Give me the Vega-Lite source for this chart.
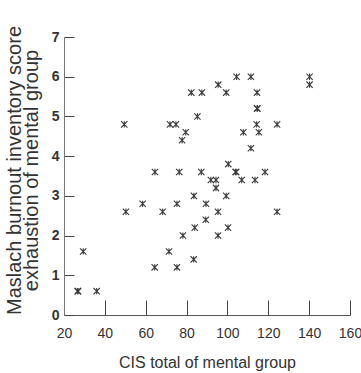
{
  "$schema": "https://vega.github.io/schema/vega-lite/v6.json",
  "width": 286,
  "height": 278,
  "autosize": {"type": "none"},
  "padding": {"left": 64, "top": 37, "right": 11, "bottom": 58},
  "background": "white",
  "config": {"view": {"stroke": null}},
  "data": {
    "values": [
      {"cis": 49.5, "mbi": 4.8}, {"cis": 71.9, "mbi": 4.8}, {"cis": 74.8, "mbi": 4.8},
      {"cis": 79.6, "mbi": 4.6}, {"cis": 77.8, "mbi": 4.4}, {"cis": 82.3, "mbi": 5.6},
      {"cis": 87.5, "mbi": 5.6}, {"cis": 85.3, "mbi": 5.0}, {"cis": 95.5, "mbi": 5.8},
      {"cis": 99.4, "mbi": 5.6}, {"cis": 104.5, "mbi": 6.0}, {"cis": 111.5, "mbi": 6.0},
      {"cis": 114.5, "mbi": 5.6}, {"cis": 114.5, "mbi": 5.2}, {"cis": 114.7, "mbi": 5.2},
      {"cis": 114.3, "mbi": 4.8}, {"cis": 115.4, "mbi": 4.6}, {"cis": 107.8, "mbi": 4.6},
      {"cis": 111.5, "mbi": 4.2}, {"cis": 124.3, "mbi": 4.8}, {"cis": 140.2, "mbi": 6.0},
      {"cis": 140.2, "mbi": 5.8}, {"cis": 100.4, "mbi": 3.8}, {"cis": 104, "mbi": 3.6},
      {"cis": 104.3, "mbi": 3.6}, {"cis": 64.5, "mbi": 3.6}, {"cis": 76.4, "mbi": 3.6},
      {"cis": 87.2, "mbi": 3.6}, {"cis": 118.4, "mbi": 3.6}, {"cis": 91.9, "mbi": 3.4},
      {"cis": 94.4, "mbi": 3.4}, {"cis": 107, "mbi": 3.4}, {"cis": 113.5, "mbi": 3.4},
      {"cis": 94.4, "mbi": 3.2}, {"cis": 99.4, "mbi": 3.0}, {"cis": 83.6, "mbi": 3.0},
      {"cis": 58.5, "mbi": 2.8}, {"cis": 75.3, "mbi": 2.8}, {"cis": 89.5, "mbi": 2.8},
      {"cis": 50.3, "mbi": 2.6}, {"cis": 68.3, "mbi": 2.6}, {"cis": 95.4, "mbi": 2.6},
      {"cis": 124.3, "mbi": 2.6}, {"cis": 89.4, "mbi": 2.4}, {"cis": 84, "mbi": 2.2},
      {"cis": 100.3, "mbi": 2.2}, {"cis": 78.2, "mbi": 2.0}, {"cis": 95.4, "mbi": 2.0},
      {"cis": 29.4, "mbi": 1.6}, {"cis": 71.4, "mbi": 1.6}, {"cis": 83.5, "mbi": 1.4},
      {"cis": 64.4, "mbi": 1.2}, {"cis": 75.3, "mbi": 1.2}, {"cis": 26.7, "mbi": 0.6},
      {"cis": 26.9, "mbi": 0.6}, {"cis": 36, "mbi": 0.6}
    ]
  },
  "mark": {
    "type": "point",
    "shape": "M-1,-1L1,1M-1,1L1,-1M0,-1L0,1",
    "filled": false,
    "size": 40,
    "stroke": "#3a3a3a",
    "strokeWidth": 1.1,
    "opacity": 1
  },
  "encoding": {
    "x": {
      "field": "cis",
      "type": "quantitative",
      "scale": {"domain": [20, 160], "nice": false, "zero": false},
      "axis": {
        "values": [20, 40, 60, 80, 100, 120, 140, 160],
        "title": "CIS total of mental group",
        "grid": false,
        "domainColor": "#555555",
        "tickColor": "#444444",
        "tickSize": -15,
        "labelPadding": 26,
        "labelOverlap": false,
        "labelFlush": false,
        "labelFont": "Liberation Sans",
        "labelFontSize": 14,
        "labelColor": "#333333",
        "titleFont": "Liberation Sans",
        "titleFontSize": 16,
        "titleFontWeight": "normal",
        "titleColor": "#333333",
        "titleBaseline": "alphabetic",
        "titleY": 52
      }
    },
    "y": {
      "field": "mbi",
      "type": "quantitative",
      "scale": {"domain": [0, 7], "nice": false},
      "axis": {
        "values": [0, 1, 2, 3, 4, 5, 6, 7],
        "title": ["Maslach burnout inventory score", "exhaustion of mental group"],
        "grid": false,
        "domainColor": "#777777",
        "tickColor": "#444444",
        "tickSize": -10,
        "labelPadding": 15,
        "labelOverlap": false,
        "labelFlush": false,
        "labelFont": "Liberation Sans",
        "labelFontSize": 14,
        "labelFontWeight": "bold",
        "labelColor": "#333333",
        "titleFont": "Liberation Sans",
        "titleFontSize": 20,
        "titleFontWeight": "normal",
        "titleColor": "#333333",
        "titleLineHeight": 17,
        "titleAngle": -90,
        "titleAlign": "center",
        "titleBaseline": "top",
        "titleX": -60,
        "titleY": 133
      }
    }
  }
}
